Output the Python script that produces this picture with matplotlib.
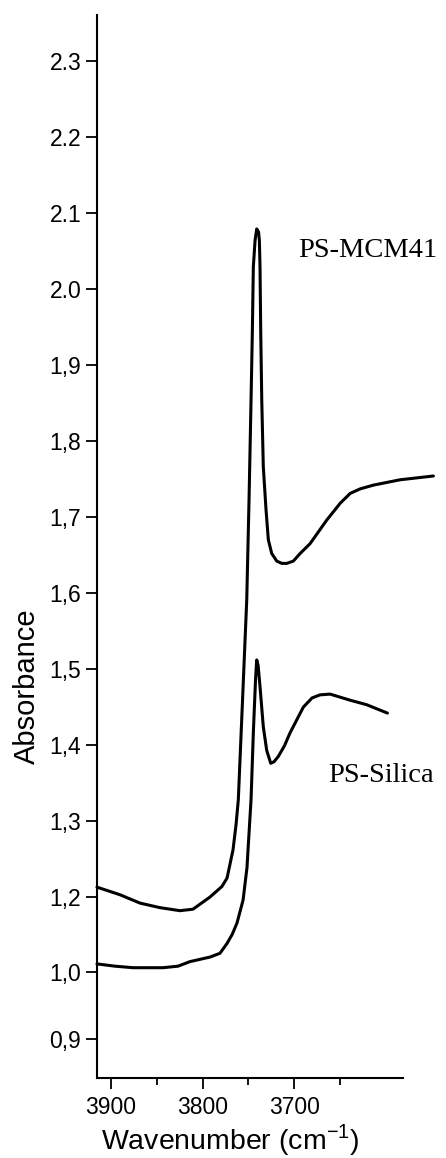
import matplotlib
matplotlib.use("Agg")
import matplotlib.pyplot as plt
from matplotlib.ticker import FixedLocator

# ---------------- data ----------------
mcm41_wn = [3915.3, 3890.2, 3868.3, 3846.4, 3824.6, 3810.4, 3791.8, 3778.7, 3773.2,
            3766.7, 3763.4, 3760.9, 3756.3, 3751.7, 3749.2, 3747.0, 3745.6, 3744.5,
            3742.6, 3740.8, 3738.8, 3737.9, 3737.2, 3736.4, 3735.3, 3733.6, 3730.6,
            3728.1, 3724.4, 3718.9, 3713.4, 3708.0, 3700.8, 3693.4, 3682.5, 3664.3,
            3649.7, 3638.8, 3627.9, 3613.3, 3584.2, 3547.8]
mcm41_abs = [1.213, 1.203, 1.192, 1.186, 1.182, 1.184, 1.200, 1.214, 1.225,
             1.262, 1.295, 1.328, 1.459, 1.591, 1.722, 1.854, 1.942, 2.029,
             2.064, 2.079, 2.075, 2.064, 2.029, 1.942, 1.854, 1.766, 1.709,
             1.670, 1.652, 1.642, 1.639, 1.639, 1.642, 1.652, 1.665, 1.696,
             1.718, 1.731, 1.737, 1.742, 1.749, 1.754]

silica_wn = [3915.3, 3895.6, 3876.0, 3843.2, 3826.8, 3813.7, 3791.8, 3780.9, 3773.2,
             3767.5, 3762.3, 3755.7, 3751.4, 3750.3, 3747.0, 3744.5, 3742.1, 3740.8,
             3739.3, 3737.2, 3733.6, 3729.9, 3725.5, 3721.9, 3717.2, 3710.5, 3704.4,
             3689.8, 3680.3, 3671.6, 3660.7, 3638.8, 3620.6, 3598.0]
silica_abs = [1.112, 1.109, 1.107, 1.107, 1.109, 1.115, 1.121, 1.126, 1.139,
              1.151, 1.166, 1.196, 1.239, 1.262, 1.328, 1.416, 1.486, 1.512,
              1.505, 1.477, 1.424, 1.393, 1.376, 1.378, 1.385, 1.399, 1.416,
              1.450, 1.462, 1.466, 1.467, 1.459, 1.453, 1.442]

series_names = ["PS-MCM41", "PS-Silica"]

ytick_pos = [2.3, 2.2, 2.1, 2.0, 1.9, 1.8, 1.7, 1.6, 1.5, 1.4, 1.3, 1.2, 1.101, 1.013]
ytick_labels = ["2.3", "2.2", "2.1", "2.0", "1,9", "1,8", "1,7", "1,6", "1,5",
                "1,4", "1,3", "1,2", "1,0", "0,9"]
xtick_major = [3900, 3800, 3700]
xtick_minor = [3850, 3750, 3650]

# ---------------- figure ----------------
sans = ["Liberation Sans", "DejaVu Sans"]
serif = ["Liberation Serif", "DejaVu Serif"]

fig = plt.figure(figsize=(4.46, 11.58), dpi=100)
ax = fig.add_axes([0.2164, 0.0695, 0.6872, 0.9175])

ax.plot(mcm41_wn, mcm41_abs, color="black", lw=2.2, clip_on=False,
        solid_joinstyle="round", solid_capstyle="round")
ax.plot(silica_wn, silica_abs, color="black", lw=2.2, clip_on=False,
        solid_joinstyle="round", solid_capstyle="round")

ax.set_xlim(3915.8, 3581.0)
ax.set_ylim(0.9625, 2.3605)

for s in ["top", "right"]:
    ax.spines[s].set_visible(False)
for s in ["left", "bottom"]:
    ax.spines[s].set_linewidth(1.5)

ax.yaxis.set_major_locator(FixedLocator(ytick_pos))
ax.set_yticklabels(ytick_labels, fontfamily=sans, fontsize=16.5)
ax.xaxis.set_major_locator(FixedLocator(xtick_major))
ax.xaxis.set_minor_locator(FixedLocator(xtick_minor))
ax.set_xticklabels([str(v) for v in xtick_major], fontfamily=sans, fontsize=16.5)

ax.tick_params(axis="y", direction="out", length=8, width=1.3, pad=3)
ax.tick_params(axis="x", which="major", direction="out", length=8, width=1.3, pad=5)
ax.tick_params(axis="x", which="minor", direction="out", length=5, width=1.3)

ax.set_xlabel("Wavenumber (cm$^{\\mathregular{-1}}$)", fontfamily=sans, fontsize=20.5)
ax.set_ylabel("Absorbance", fontfamily=sans, fontsize=21)
ax.xaxis.set_label_coords(0.4356, -0.0415)
ax.yaxis.set_label_coords(-0.18, 0.3685)

ax.text(3695.6, 2.042, series_names[0], fontfamily=serif, fontsize=20.5,
        ha="left", va="baseline", clip_on=False)
ax.text(3662.8, 1.351, series_names[1], fontfamily=serif, fontsize=20.5,
        ha="left", va="baseline", clip_on=False)

fig.savefig("out.png", dpi=100)
